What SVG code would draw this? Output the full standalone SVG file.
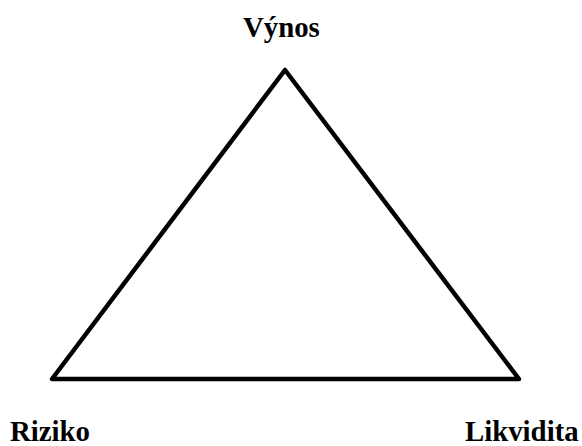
<svg xmlns="http://www.w3.org/2000/svg" width="582" height="446" viewBox="0 0 582 446">
<style>
.lbl{font-family:"Liberation Serif","Times New Roman",serif;font-weight:bold;font-size:28.8px;fill:#000}
</style>
<rect width="582" height="446" fill="#fff"/>
<g id="connectors">
<polygon points="285,70 52,379 519,379" fill="none" stroke="#000" stroke-width="4.5" stroke-linejoin="round"/>
</g>
<g id="vynos"><text class="lbl" x="243" y="37">Výnos</text></g>
<g id="riziko"><text class="lbl" x="10" y="441">Riziko</text></g>
<g id="likvidita"><text class="lbl" x="465" y="441">Likvidita</text></g>
</svg>
